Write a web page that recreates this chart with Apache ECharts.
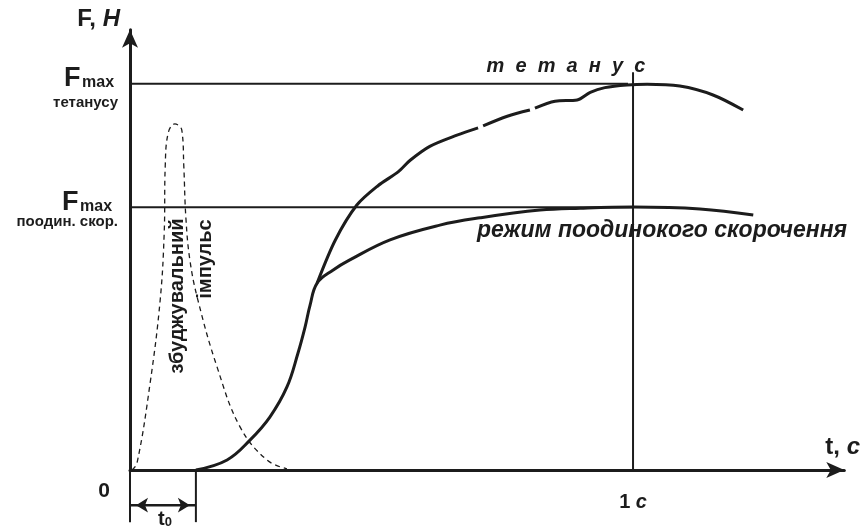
<!DOCTYPE html>
<html><head><meta charset="utf-8">
<script src="https://cdn.jsdelivr.net/npm/echarts@6/dist/echarts.min.js"></script>
<style>html,body{margin:0;padding:0;background:#fff}#c{width:866px;height:529px}</style>
</head><body><div id="c"></div>
<script>
// time in seconds, force in % of tetanic maximum
const pulseT = [0.004, 0.014, 0.040, 0.060, 0.068, 0.070, 0.076, 0.089, 0.103, 0.107, 0.111, 0.119, 0.135, 0.173, 0.219, 0.272, 0.312];
const pulseF = [0, 1.8, 22.5, 44.0, 61.4, 78.5, 87.3, 89.6, 88.0, 78.5, 65.5, 54.4, 44.0, 26.7, 11.1, 2.6, 0.3];

const twitchT = [0.131, 0.193, 0.239, 0.278, 0.312, 0.334, 0.348, 0.358, 0.372, 0.404, 0.437, 0.517, 0.616, 0.696, 0.815, 0.895, 1.0, 1.133, 1.239];
const twitchF = [0, 2.6, 7.8, 13.7, 21.5, 30.3, 37.0, 42.7, 48.4, 51.8, 54.4, 59.6, 63.4, 65.3, 67.3, 67.8, 68.1, 67.6, 66.0];

const tetanusT = [0.372, 0.408, 0.451, 0.493, 0.533, 0.557, 0.596, 0.650, 0.692, null, 0.702, 0.750, 0.795, null, 0.805, 0.845, 0.889, 0.915, 0.944, 0.988, 1.028, 1.093, 1.159, 1.219];
const tetanusF = [48.4, 59.5, 68.6, 73.6, 77.2, 80.2, 83.8, 86.7, 88.6, null, 89.1, 91.6, 93.2, null, 93.7, 95.5, 95.8, 97.8, 99.0, 99.7, 99.9, 99.4, 97.1, 93.2];

const fmaxTetanus = 100;
const fmaxTwitch = 68;
const fmaxTetanusEnd = 0.99;
const fmaxTwitchEnd = 1.0;
const oneSecond = 1;
const oneSecondTop = 103;
const t0 = 0.131;
const t0MarkBottom = -13.5;
const t0ArrowLevel = -9.1;

const xTickLabels = ['0', '1 с'];
const yLabelMain = ['F', 'F'];
const yLabelSub = ['max', 'max'];
const yLabelNote = ['тетанусу', 'поодин. скор.'];
const axisNames = ['F, ', 'Н', 't, ', 'с'];
const tetanusTitle = 'тетанус';
const twitchTitle = 'режим поодинокого скорочення';
const pulseTitle = ['збуджувальний', 'імпульс'];
const t0Label = ['t', '0'];

const zip = (a, b) => a.map((v, i) => (v === null ? [null, null] : [v, b[i]]));
const FONT = 'Liberation Sans, Arial, sans-serif';
const INK = '#1c1c1c';

const chart = echarts.init(document.getElementById('c'), null, {renderer: 'canvas'});
const option = {
  backgroundColor: '#fff',
  animation: false,
  grid: {left: 130, right: 21.7, top: 29.7, bottom: 59, containLabel: false},
  xAxis: {
    type: 'value', min: 0, max: 1.42, interval: 1,
    axisLine: {show: true, symbol: ['none', 'arrow'], symbolSize: [12, 18], lineStyle: {color: INK, width: 3}},
    axisTick: {show: false}, splitLine: {show: false},
    axisLabel: {
      margin: 22, color: INK, fontFamily: FONT, fontWeight: 'bold', fontSize: 20,
      formatter: v => (v === oneSecond ? '{n|1} {i|с}' : ''),
      rich: {n: {fontSize: 20, fontWeight: 'bold', fontFamily: FONT, color: INK},
             i: {fontSize: 20, fontWeight: 'bold', fontStyle: 'italic', fontFamily: FONT, color: INK}}
    }
  },
  yAxis: {
    type: 'value', min: 0, max: 114,
    axisLine: {show: true, symbol: ['none', 'arrow'], symbolSize: [12, 18], lineStyle: {color: INK, width: 3}},
    axisTick: {show: false}, splitLine: {show: false}, axisLabel: {show: false}
  },
  series: [
    {type: 'line', data: zip(pulseT, pulseF), smooth: 0.4, symbol: 'none',
     lineStyle: {color: INK, width: 1.3, type: [5, 4]}},
    {type: 'line', data: zip(twitchT, twitchF), smooth: 0.4, symbol: 'none',
     lineStyle: {color: INK, width: 3}},
    {type: 'line', data: zip(tetanusT, tetanusF), smooth: 0.3, symbol: 'none', connectNulls: false,
     lineStyle: {color: INK, width: 3}},
    {type: 'line', data: [[0, fmaxTetanus], [fmaxTetanusEnd, fmaxTetanus]], symbol: 'none', lineStyle: {color: INK, width: 2}},
    {type: 'line', data: [[0, fmaxTwitch], [fmaxTwitchEnd, fmaxTwitch]], symbol: 'none', lineStyle: {color: INK, width: 2}},
    {type: 'line', data: [[oneSecond, 0], [oneSecond, oneSecondTop]], symbol: 'none', lineStyle: {color: INK, width: 2}},
    {type: 'line', clip: false, data: [[0, 0], [0, t0MarkBottom]], symbol: 'none', lineStyle: {color: INK, width: 2}},
    {type: 'line', clip: false, data: [[t0, 0], [t0, t0MarkBottom]], symbol: 'none', lineStyle: {color: INK, width: 2}},
    {type: 'line', clip: false, symbol: 'arrow', symbolSize: [11, 12], showSymbol: true,
     itemStyle: {color: INK},
     data: [
       {value: [0, t0ArrowLevel], symbolRotate: 90, symbolOffset: [6, 0]},
       {value: [t0, t0ArrowLevel], symbolRotate: -90, symbolOffset: [-6, 0]}
     ],
     lineStyle: {color: INK, width: 2.5}}
  ],
  graphic: [
    {type: 'text', x: 120, y: 19, style: {text: `{a|${axisNames[0]}}{b|${axisNames[1]}}`, align: 'right', verticalAlign: 'middle',
      rich: {a: {fontSize: 24, fontWeight: 'bold', fontFamily: FONT, fill: INK, color: INK},
             b: {fontSize: 24, fontWeight: 'bold', fontStyle: 'italic', fontFamily: FONT, fill: INK, color: INK}}}},
    {type: 'text', x: 860, y: 447, style: {text: `{a|${axisNames[2]}}{b|${axisNames[3]}}`, align: 'right', verticalAlign: 'middle',
      rich: {a: {fontSize: 24, fontWeight: 'bold', fontFamily: FONT, fill: INK, color: INK},
             b: {fontSize: 24, fontWeight: 'bold', fontStyle: 'italic', fontFamily: FONT, fill: INK, color: INK}}}},
    // Fmax tetanus
    {type: 'text', x: 64, y: 79, style: {text: yLabelMain[0], font: `bold 27px ${FONT}`, fill: INK, verticalAlign: 'middle'}},
    {type: 'text', x: 82, y: 83, style: {text: yLabelSub[0], font: `bold 16px ${FONT}`, fill: INK, verticalAlign: 'middle'}},
    {type: 'text', x: 118, y: 103, style: {text: yLabelNote[0], font: `bold 15px ${FONT}`, fill: INK, align: 'right', verticalAlign: 'middle'}},
    // Fmax twitch
    {type: 'text', x: 62, y: 203, style: {text: yLabelMain[1], font: `bold 27px ${FONT}`, fill: INK, verticalAlign: 'middle'}},
    {type: 'text', x: 80, y: 207, style: {text: yLabelSub[1], font: `bold 16px ${FONT}`, fill: INK, verticalAlign: 'middle'}},
    {type: 'text', x: 118, y: 222, style: {text: yLabelNote[1], font: `bold 15px ${FONT}`, fill: INK, align: 'right', verticalAlign: 'middle'}},
    // origin 0
    {type: 'text', x: 104, y: 491, style: {text: xTickLabels[0], font: `bold 21px ${FONT}`, fill: INK, align: 'center', verticalAlign: 'middle'}},
    // t0
    {type: 'text', x: 165, y: 519, style: {text: `{a|${t0Label[0]}}{b|${t0Label[1]}}`, align: 'center', verticalAlign: 'middle',
      rich: {a: {fontSize: 20, fontWeight: 'bold', fontFamily: FONT, fill: INK, color: INK, verticalAlign: 'bottom'},
             b: {fontSize: 13, fontWeight: 'bold', fontFamily: FONT, fill: INK, color: INK, verticalAlign: 'bottom'}}}},
    // tetanus title
    {type: 'text', x: 566, y: 66, style: {text: tetanusTitle.split('').join('  '), font: `italic bold 20px ${FONT}`, fill: INK, align: 'center', verticalAlign: 'middle'}},
    // twitch title
    {type: 'text', x: 477, y: 231, style: {text: twitchTitle, font: `italic bold 23px ${FONT}`, fill: INK, verticalAlign: 'middle'}},
    // pulse titles (rotated)
    {type: 'text', x: 177, y: 296, rotation: Math.PI / 2, style: {text: pulseTitle[0], font: `bold 20px ${FONT}`, fill: INK, align: 'center', verticalAlign: 'middle'}},
    {type: 'text', x: 205, y: 259, rotation: Math.PI / 2, style: {text: pulseTitle[1], font: `bold 20px ${FONT}`, fill: INK, align: 'center', verticalAlign: 'middle'}}
  ]
};
chart.setOption(option);
</script>
</body></html>
